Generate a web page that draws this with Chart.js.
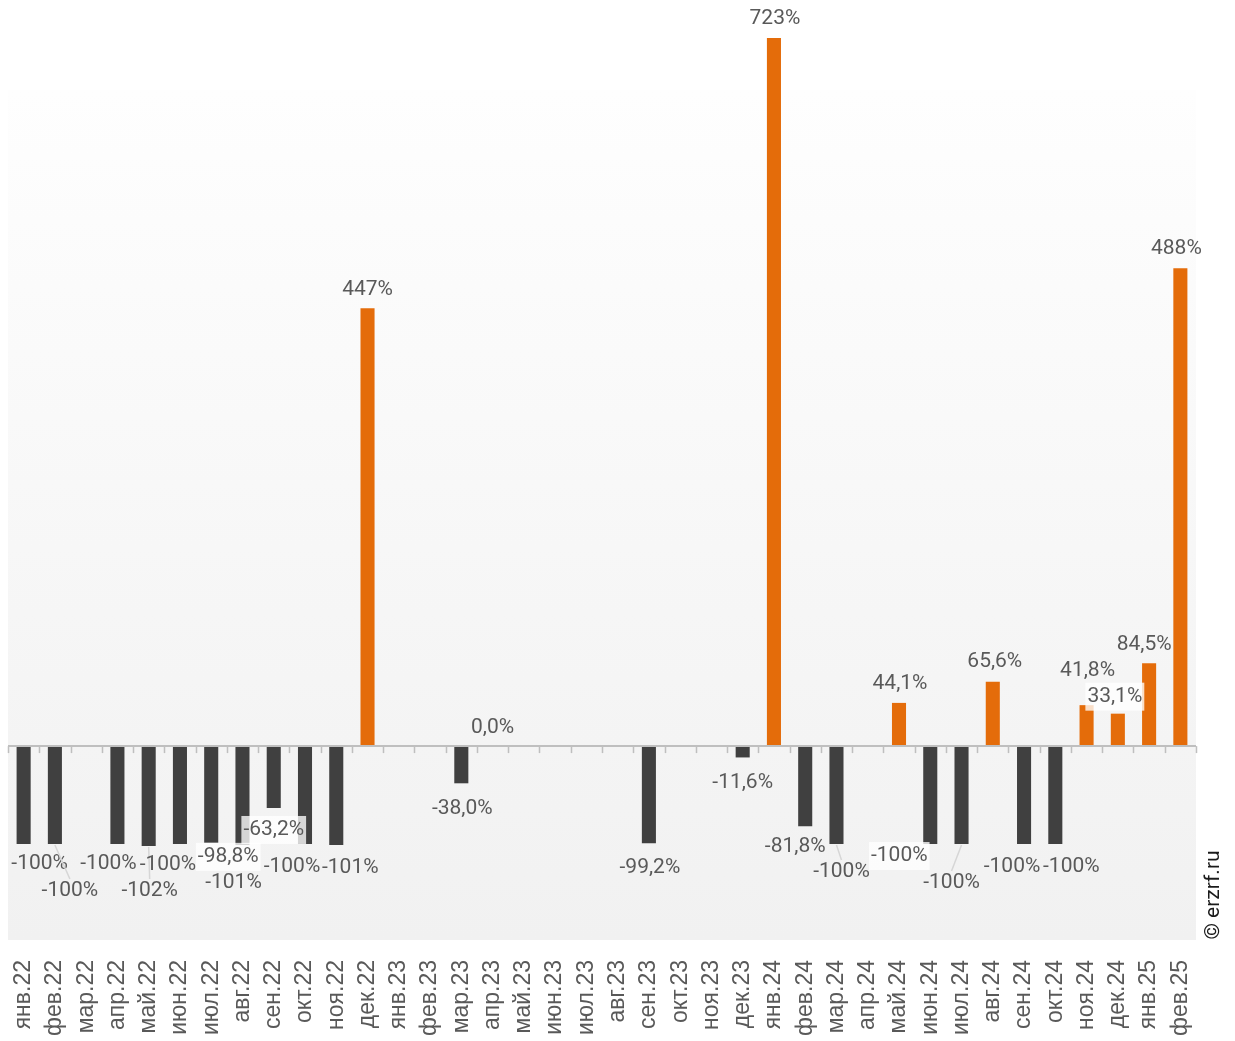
<!DOCTYPE html>
<html><head><meta charset="utf-8">
<script src="https://cdn.jsdelivr.net/npm/chart.js@4/dist/chart.umd.min.js"></script>
<style>html,body{margin:0;padding:0;background:#fff;}#wrap{width:1235px;height:1041px;position:relative;}</style>
</head><body><div id="wrap"><canvas id="c" width="1235" height="1041"></canvas></div>
<script>
const categories = ['янв.22','фев.22','мар.22','апр.22','май.22','июн.22','июл.22','авг.22','сен.22','окт.22','ноя.22','дек.22',
'янв.23','фев.23','мар.23','апр.23','май.23','июн.23','июл.23','авг.23','сен.23','окт.23','ноя.23','дек.23',
'янв.24','фев.24','мар.24','апр.24','май.24','июн.24','июл.24','авг.24','сен.24','окт.24','ноя.24','дек.24',
'янв.25','фев.25'];
const values = [-100,-100,null,-100,-102,-100,-98.8,-101,-63.2,-100,-101,447,
null,null,-38.0,0.0,null,null,null,null,-99.2,null,null,-11.6,
723,-81.8,-100,null,44.1,-100,-100,65.6,-100,-100,41.8,33.1,
84.5,488];
// label nudges (px) to avoid overlaps, as in the original
const labelDx = [16,15,0,-9,1,-12,17,-9,0,-13,14,0, 0,0,1,0,0,0,0,0,1,0,0,0, 1,-10,5,0,1,-31,-10,2,-12,16,1,-3, -5,-4];
const labelDy = [0,27,0,0,25,1,-6,18,2,3,3,0, 0,0,5,1,0,0,0,0,5,0,0,5, 0,1,8,0,0,-8,19,-1,3,3,-15,2, 0,0];
const boxedLabels = [6,8,29,35];
const leaderLabels = [1,4,26,30];

const ORANGE = '#E46C0A', DARK = '#404040';

function fmt(v){
  if (Math.abs(v) >= 100) return Math.round(v) + '%';
  return v.toFixed(1).replace('.', ',') + '%';
}

const bgPlugin = {
  id:'bg',
  beforeDraw(chart){
    const {ctx, chartArea:a} = chart;
    const top = 90;
    const g = ctx.createLinearGradient(0, top, 0, a.bottom);
    g.addColorStop(0, '#fefefe');
    g.addColorStop(1, '#f1f1f1');
    ctx.save();
    ctx.fillStyle = g;
    ctx.fillRect(a.left, top, a.right - a.left, a.bottom - top);
    ctx.restore();
  },
  afterDatasetsDraw(chart){
    const {ctx, chartArea:a, scales:{x,y}} = chart;
    const y0 = y.getPixelForValue(0);
    ctx.save();
    ctx.strokeStyle = '#bfbfbf';
    ctx.lineWidth = 2;
    ctx.beginPath(); ctx.moveTo(a.left, y0); ctx.lineTo(a.right, y0); ctx.stroke();
    ctx.lineWidth = 1.5;
    const n = categories.length;
    const w = (a.right - a.left) / n;
    for (let i = 0; i <= n; i++){
      const xx = Math.round(a.left + i*w) + 0.5;
      ctx.beginPath(); ctx.moveTo(xx, y0); ctx.lineTo(xx, y0 + 7); ctx.stroke();
    }
    // data labels
    const meta = chart.getDatasetMeta(0);
    ctx.font = '21px Roboto';
    ctx.textAlign = 'center';
    ctx.textBaseline = 'middle';
    meta.data.forEach((el, i) => {
      const v = values[i];
      if (v === null || v === undefined) return;
      const txt = fmt(v);
      const end = y.getPixelForValue(v);
      let ly = v >= 0 ? end - 19 : end + 20;
      const lx = el.x + labelDx[i];
      ly += labelDy[i];
      const tw = ctx.measureText(txt).width;
      if (leaderLabels.includes(i)){
        ctx.strokeStyle = '#d6d6d6';
        ctx.lineWidth = 1.5;
        ctx.beginPath();
        ctx.moveTo(el.x, end + 1);
        ctx.lineTo(lx, ly - 12);
        ctx.stroke();
      }
      if (boxedLabels.includes(i)){
        ctx.fillStyle = 'rgba(255,255,255,0.78)';
        ctx.fillRect(lx - tw/2 - 2, ly - 14, tw + 4, 28);
      }
      ctx.fillStyle = '#595959';
      ctx.fillText(txt, lx, ly);
    });
    // copyright
    ctx.save();
    ctx.translate(1214, 895);
    ctx.rotate(-Math.PI/2);
    ctx.font = '21px Roboto';
    ctx.fillStyle = '#1a1a1a';
    ctx.textAlign = 'center';
    ctx.textBaseline = 'middle';
    ctx.fillText('© erzrf.ru', 0, 0);
    ctx.restore();
    ctx.restore();
  }
};

new Chart(document.getElementById('c'), {
  type:'bar',
  data:{
    labels: categories,
    datasets:[{
      data: values,
      backgroundColor: values.map(v => v !== null && v >= 0 ? ORANGE : DARK),
      barPercentage: 0.45,
      categoryPercentage: 1.0,
      borderWidth: 0
    }]
  },
  options:{
    responsive:false,
    animation:false,
    devicePixelRatio:1,
    layout:{padding:{left:8, right:39, top:38, bottom:0}},
    plugins:{legend:{display:false}, tooltip:{enabled:false}},
    scales:{
      x:{
        grid:{display:false, drawTicks:false},
        border:{display:false},
        ticks:{
          maxRotation:90, minRotation:90, autoSkip:false,
          padding:20,
          color:'#595959',
          font:{family:'Liberation Sans', size:23}
        },
        afterFit(s){ s.height = 101; }
      },
      y:{
        display:false,
        min:-198, max:723
      }
    }
  },
  plugins:[bgPlugin]
});
</script>
</body></html>
